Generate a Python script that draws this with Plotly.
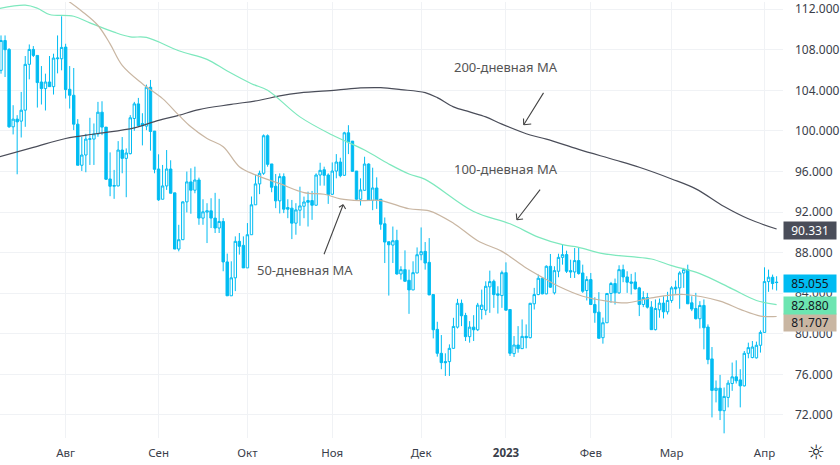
import plotly.graph_objects as go

# daily candles
opens = [105.98, 108.92, 108.04, 100.41, 101.17, 100.97, 102.05, 106.57, 108.04, 107.45,
         104.83, 104.18, 104.83, 104.37, 107.12, 107.12, 108.27, 104.11, 103.52, 100.67,
         96.62, 97.63, 99.17, 99.20, 99.69, 101.85, 100.38, 95.27, 94.55, 94.58,
         98.12, 97.30, 97.76, 101.23, 102.67, 100.74, 100.48, 104.31, 99.99, 96.25,
         93.27, 94.58, 96.25, 93.90, 88.36, 89.28, 93.01, 94.98, 94.16, 95.17,
         91.41, 92.00, 92.13, 91.41, 90.43, 91.08, 87.09, 83.75, 85.52, 89.12,
         88.72, 86.50, 89.77, 92.72, 94.78, 95.83, 99.53, 96.75, 94.55, 93.11,
         95.50, 92.45, 92.39, 90.91, 92.19, 92.58, 93.14, 93.14, 92.68, 95.66,
         96.18, 95.66, 93.76, 96.05, 96.94, 95.63, 99.82, 99.00, 96.05, 93.27,
         94.15, 96.74, 93.14, 94.38, 93.27, 90.85, 89.08, 88.75, 89.21, 85.90,
         86.33, 85.28, 84.33, 86.00, 87.80, 88.13, 87.05, 83.87, 80.44, 78.08,
         77.26, 77.26, 78.57, 80.66, 83.01, 81.81, 79.72, 80.66, 80.40, 82.40,
         82.33, 84.63, 85.18, 83.94, 83.77, 86.03, 82.40, 78.05, 78.90, 78.54,
         79.75, 79.62, 82.96, 83.87, 85.48, 83.94, 86.66, 84.04, 86.17, 87.54,
         87.81, 86.23, 86.10, 87.22, 86.00, 84.27, 85.35, 82.89, 82.14, 79.62,
         81.09, 83.98, 84.96, 84.04, 86.33, 85.61, 85.12, 85.12, 84.53, 82.89,
         83.58, 82.63, 80.41, 82.37, 83.03, 82.17, 83.29, 84.60, 84.53, 86.00,
         86.33, 83.06, 82.50, 81.49, 82.80, 80.67, 77.53, 74.42, 74.64, 72.42,
         73.73, 75.10, 75.76, 75.46, 74.87, 78.08, 77.66, 77.63, 78.87, 80.14,
         85.15, 85.58, 85.10]
highs = [109.42, 109.42, 108.17, 102.54, 101.56, 103.85, 107.39, 108.53, 108.37, 107.45,
         106.40, 105.65, 107.39, 107.62, 109.42, 111.31, 108.60, 106.40, 106.21, 101.17,
         99.43, 99.72, 101.30, 100.74, 102.87, 102.93, 100.38, 97.89, 96.16, 99.00,
         99.40, 98.28, 101.56, 102.87, 103.26, 101.75, 104.57, 105.03, 99.99, 97.70,
         96.65, 98.12, 97.11, 93.90, 90.75, 93.05, 96.00, 96.32, 96.48, 95.40,
         93.27, 92.88, 93.37, 93.90, 93.31, 91.41, 87.91, 87.15, 89.61, 89.94,
         89.61, 90.92, 93.54, 95.67, 96.09, 99.66, 99.66, 96.75, 95.76, 95.82,
         95.82, 93.27, 93.20, 92.88, 94.51, 93.53, 94.02, 94.09, 95.82, 96.87,
         96.48, 95.82, 96.90, 97.72, 97.36, 99.92, 100.57, 99.00, 96.05, 95.33,
         97.46, 96.81, 96.38, 95.43, 93.27, 91.47, 89.08, 90.58, 90.26, 86.66,
         88.23, 86.33, 87.15, 88.52, 90.49, 89.05, 89.44, 83.87, 81.19, 79.88,
         78.08, 78.96, 81.58, 83.45, 83.38, 82.07, 81.25, 81.84, 83.05, 84.36,
         85.18, 86.23, 85.35, 84.69, 86.23, 87.05, 82.40, 79.78, 80.76, 81.42,
         80.93, 83.05, 84.53, 85.84, 85.58, 86.75, 87.87, 86.66, 87.90, 88.79,
         88.20, 87.31, 88.46, 88.53, 86.82, 85.68, 86.00, 83.61, 84.11, 81.60,
         83.98, 85.12, 85.45, 86.76, 86.82, 86.17, 85.91, 86.07, 84.63, 84.20,
         84.04, 83.22, 83.39, 83.48, 83.71, 84.14, 84.70, 85.25, 86.17, 86.50,
         86.82, 83.71, 84.04, 83.22, 83.39, 80.93, 78.70, 75.40, 75.95, 74.71,
         75.43, 77.17, 77.39, 76.51, 78.31, 79.13, 79.29, 79.23, 80.34, 86.56,
         86.33, 85.84, 85.68]
lows = [105.65, 105.32, 100.31, 99.66, 95.73, 99.36, 100.41, 105.09, 107.29, 102.31,
        102.61, 102.02, 104.34, 103.59, 105.68, 105.98, 103.20, 102.21, 100.08, 96.62,
        96.06, 95.93, 96.65, 96.65, 99.43, 99.59, 95.17, 93.57, 93.31, 94.55,
        95.83, 93.47, 97.70, 100.02, 100.51, 98.58, 100.08, 98.06, 95.83, 93.11,
        93.27, 94.19, 93.86, 88.36, 88.13, 89.25, 91.97, 91.84, 93.86, 90.75,
        90.75, 88.95, 90.43, 89.94, 89.94, 86.17, 83.75, 83.75, 84.21, 87.81,
        86.50, 86.50, 89.77, 92.72, 93.77, 95.67, 96.48, 93.96, 92.39, 91.87,
        91.90, 91.40, 89.34, 89.77, 90.65, 91.40, 90.58, 91.24, 92.65, 94.61,
        94.61, 92.81, 93.70, 95.33, 95.43, 95.59, 97.72, 95.99, 93.20, 92.65,
        94.12, 93.11, 92.19, 92.32, 90.26, 86.98, 83.77, 86.98, 85.84, 85.35,
        85.18, 81.97, 84.30, 85.97, 87.25, 86.33, 83.81, 79.55, 77.75, 76.51,
        75.85, 75.85, 78.54, 80.53, 80.76, 79.29, 79.13, 79.29, 80.27, 81.42,
        81.84, 82.07, 82.56, 82.00, 82.56, 82.30, 77.82, 77.72, 78.14, 78.50,
        78.57, 79.55, 82.40, 83.81, 83.90, 83.90, 84.53, 83.88, 85.58, 86.82,
        86.00, 85.51, 85.51, 85.84, 84.04, 83.29, 82.89, 81.09, 79.56, 79.03,
        81.09, 83.06, 82.89, 83.94, 85.09, 84.04, 83.88, 84.37, 81.75, 82.63,
        82.50, 80.41, 80.34, 81.59, 81.52, 81.91, 83.06, 83.94, 82.47, 84.53,
        82.96, 82.24, 81.42, 80.53, 78.47, 77.00, 71.76, 73.24, 71.50, 70.19,
        72.75, 74.38, 75.10, 72.75, 74.81, 77.59, 77.59, 77.56, 78.15, 80.11,
        84.14, 84.37, 84.27]
closes = [108.92, 108.01, 100.41, 101.17, 100.90, 102.05, 106.57, 108.04, 107.45, 104.77,
          104.18, 104.83, 104.37, 107.19, 107.19, 108.24, 104.08, 103.52, 100.67, 96.62,
          97.63, 99.20, 99.23, 99.72, 101.85, 100.38, 95.24, 94.55, 94.62, 98.12,
          97.30, 97.83, 101.30, 102.67, 100.51, 100.51, 104.31, 99.95, 96.22, 93.21,
          94.58, 96.25, 93.86, 88.36, 89.28, 93.01, 94.98, 94.16, 95.17, 91.41,
          92.03, 92.13, 91.41, 90.43, 91.08, 87.09, 83.75, 85.52, 89.12, 88.63,
          86.50, 89.77, 92.72, 94.78, 95.83, 99.53, 96.71, 94.45, 93.11, 95.50,
          92.29, 92.29, 90.91, 92.22, 92.61, 93.00, 92.97, 92.68, 95.66, 96.12,
          95.63, 93.73, 96.05, 96.94, 95.59, 99.82, 98.93, 96.02, 93.27, 94.19,
          96.74, 93.14, 94.38, 93.17, 90.81, 89.05, 88.78, 89.18, 85.90, 86.33,
          85.18, 84.33, 86.03, 87.80, 88.10, 86.98, 83.84, 80.40, 78.08, 77.16,
          77.16, 78.57, 80.73, 83.01, 81.78, 79.72, 80.66, 80.40, 82.83, 82.83,
          84.69, 85.15, 83.87, 83.81, 86.03, 82.33, 78.08, 78.90, 78.54, 79.75,
          79.62, 83.01, 83.87, 85.48, 83.94, 86.66, 84.60, 86.23, 87.54, 87.81,
          86.17, 86.10, 87.22, 85.94, 84.20, 85.35, 82.89, 82.08, 79.56, 81.09,
          83.98, 84.96, 84.04, 86.33, 85.61, 85.09, 84.99, 84.43, 82.89, 83.58,
          82.63, 80.41, 82.50, 83.03, 82.17, 83.29, 84.53, 84.43, 86.00, 86.33,
          82.96, 82.44, 81.49, 82.80, 80.60, 77.46, 74.42, 74.64, 72.42, 73.83,
          75.14, 75.76, 75.37, 74.87, 78.08, 78.64, 78.70, 78.87, 80.14, 85.15,
          85.58, 84.96, 85.055]
sessions = list(range(len(opens)))

# moving averages, sampled along each line
ma200_x = [-1, 8, 16, 24, 33, 39, 44, 49, 57, 64, 69, 74, 83, 89, 94, 99, 105, 108, 112, 116,
           120, 124, 131, 135, 143, 152, 158, 166, 172, 179, 185, 192]
ma200_y = [97.40, 98.38, 99.26, 99.75, 100.31, 101.05, 101.54, 102.11, 102.62, 103.03, 103.46,
           103.75, 104.02, 104.24, 104.27, 104.08, 103.78, 103.29, 102.38, 101.88, 101.39,
           100.68, 99.60, 99.20, 98.18, 97.14, 96.42, 95.27, 94.29, 92.55, 91.34, 90.331]
ma100_x = [-1, 6, 9, 12, 18, 22, 28, 32, 36, 44, 51, 56, 62, 66, 74, 82, 90, 96, 101, 105,
           117, 126, 133, 139, 143, 149, 156, 161, 166, 173, 181, 187, 192]
ma100_y = [112.03, 112.40, 112.10, 111.48, 111.31, 110.66, 109.74, 109.28, 109.22, 107.91,
           107.06, 105.91, 104.66, 104.02, 101.39, 99.60, 98.12, 96.75, 95.76, 95.23,
           92.06, 90.85, 89.54, 88.79, 88.53, 87.91, 87.61, 87.38, 86.73, 85.94, 84.43,
           83.29, 82.880]
ma50_x = [16, 20, 24, 27, 30, 35, 40, 44, 47, 51, 55, 59, 63, 69, 75, 80, 84, 89, 94, 101,
          106, 112, 118, 124, 130, 135, 138, 144, 150, 155, 161, 169, 178, 183, 188, 192]
ma50_y = [113.00, 111.81, 110.40, 108.59, 106.47, 104.66, 103.19, 101.56, 100.41, 99.26,
          98.45, 96.48, 95.67, 94.81, 93.93, 93.76, 93.31, 93.14, 93.14, 92.33, 92.13,
          90.91, 89.18, 88.13, 86.49, 85.35, 84.69, 83.71, 83.22, 83.05, 83.55, 83.88,
          83.22, 82.41, 81.75, 81.707]

month_ticks = [16, 39, 61, 82, 104, 125, 146, 166, 189]
month_labels = ['Авг', 'Сен', 'Окт', 'Ноя', 'Дек', '<b>2023</b>', 'Фев', 'Мар', 'Апр']
price_ticks = [72, 76, 80, 84, 88, 92, 96, 100, 104, 108, 112]

BLUE = '#00bcf2'
DARK = '#4a4d59'
GREEN = '#7de8bd'
TAN = '#c9b6a2'
GRID = '#f0f2f5'
FONT = 'Noto Sans'

fig = go.Figure()
fig.add_trace(go.Scatter(x=ma200_x, y=ma200_y, mode='lines', line=dict(color=DARK, width=1.2, shape='spline'), hoverinfo='skip'))
fig.add_trace(go.Scatter(x=ma100_x, y=ma100_y, mode='lines', line=dict(color=GREEN, width=1.2, shape='spline'), hoverinfo='skip'))
fig.add_trace(go.Scatter(x=ma50_x, y=ma50_y, mode='lines', line=dict(color=TAN, width=1.2, shape='spline'), hoverinfo='skip'))
fig.add_trace(go.Candlestick(
    x=sessions, open=opens, high=highs, low=lows, close=closes,
    increasing=dict(line=dict(color=BLUE, width=1), fillcolor='white'),
    decreasing=dict(line=dict(color=BLUE, width=1), fillcolor=BLUE),
    whiskerwidth=0,
))

# text notes
for text, x, price in [('200-дневная MA', 125, 106.3), ('100-дневная MA', 125, 96.3), ('50-дневная MA', 75.3, 86.3)]:
    fig.add_annotation(x=x, y=price, text=text, showarrow=False,
                       font=dict(family=FONT, size=13, color='#555555'))

# hand drawn arrows: shaft and two barbs, offsets in pixels from the tip
arrows = [
    (129.4, 100.61, [(20.7, -33.4), (-0.3, -7.7), (9, -1)]),
    (127.7, 91.25, [(24.4, -31.6), (-0.7, -7.7), (7.7, -1)]),
    (84.7, 92.72, [(-19.7, 51), (-5.7, 3.3), (3.3, 5.7)]),
]
for tip_x, tip_y, strokes in arrows:
    for ax, ay in strokes:
        fig.add_annotation(x=tip_x, y=tip_y, ax=ax, ay=ay, text='', showarrow=True, arrowhead=0,
                           arrowwidth=1.1, arrowcolor='#444444')

# last value tags on the price scale
for value, bg, fg, shift in [(90.331, DARK, 'white', -1), (81.707, TAN, '#131722', -6),
                             (82.880, '#6ce5b1', '#131722', -1), (85.055, BLUE, '#131722', -1)]:
    fig.add_annotation(xref='paper', x=1, xanchor='left', y=value, yshift=shift, text=f'{value:.3f}',
                       showarrow=False, bgcolor=bg, width=52, height=17, align='center',
                       borderpad=0, font=dict(family=FONT, size=12, color=fg))

fig.add_annotation(xref='paper', yref='paper', x=1.0425, y=-0.032, xanchor='center', yanchor='middle',
                   text='☼', showarrow=False, font=dict(family='DejaVu Sans', size=20, color='#131722'))

fig.update_layout(
    width=840, height=465,
    margin=dict(l=0, r=55, t=0, b=27),
    paper_bgcolor='white', plot_bgcolor='white',
    showlegend=False, boxgap=0.4, boxgroupgap=0,
    font=dict(family=FONT, size=12, color='#3a3e4a'),
    xaxis=dict(range=[-0.25, 193.58], tickvals=month_ticks, ticktext=month_labels, showgrid=True,
               gridcolor=GRID, gridwidth=1, zeroline=False, showline=False, ticks='',
               rangeslider=dict(visible=False), tickfont=dict(size=11.5), ticklabelstandoff=6),
    yaxis=dict(range=[69.73, 112.716], side='right', tickvals=price_ticks, tickformat='.3f',
               showgrid=True, gridcolor=GRID, gridwidth=1, zeroline=False, showline=False,
               ticks='', ticklabelstandoff=11, ticklabeloverflow='allow', tickfont=dict(size=12)),
)

# the page's default body margin would push the chart off its place
fig.write_html("out.html", config=dict(displayModeBar=False), post_script="document.body.style.margin='0';")
